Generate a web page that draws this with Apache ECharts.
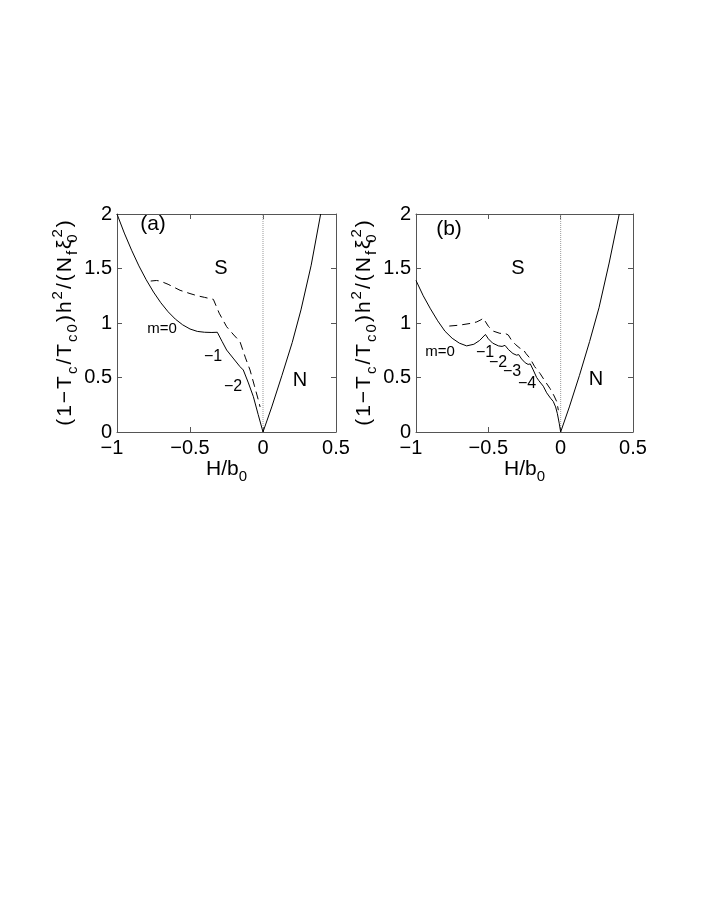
<!DOCTYPE html>
<html>
<head>
<meta charset="utf-8">
<script src="https://cdn.jsdelivr.net/npm/echarts@6/dist/echarts.min.js"></script>
<style>
  html, body { margin: 0; padding: 0; background: #fff; }
  #main { width: 708px; height: 917px; }
</style>
</head>
<body>
<div id="main"></div>
<script>
// 两个子图的数据 (a) (b)，从原图读出来的点
const boundaryA = [
  [-1, 2.0], [-0.95, 1.825], [-0.9, 1.668], [-0.85, 1.524], [-0.8, 1.397], [-0.75, 1.284],
  [-0.7, 1.186], [-0.65, 1.103], [-0.6, 1.035], [-0.55, 0.983], [-0.5, 0.945], [-0.45, 0.923],
  [-0.4, 0.915], [-0.35, 0.913], [-0.313, 0.915],
  [-0.28, 0.83], [-0.249, 0.752], [-0.2, 0.67], [-0.158, 0.6], [-0.135, 0.569],
  [-0.1, 0.45], [-0.066, 0.324], [-0.033, 0.16], [0, 0]
];
const dashedA = [
  [-0.769, 1.385], [-0.73, 1.39], [-0.705, 1.385], [-0.65, 1.355], [-0.568, 1.3],
  [-0.5, 1.27], [-0.45, 1.25], [-0.4, 1.235], [-0.34, 1.217],
  [-0.3, 1.09], [-0.249, 0.966], [-0.2, 0.89], [-0.158, 0.83],
  [-0.12, 0.68], [-0.089, 0.569], [-0.06, 0.43], [-0.032, 0.294], [-0.02, 0.23]
];
const normalA = [[0, 0], [0.06, 0.23], [0.13, 0.52], [0.2, 0.82], [0.26, 1.12], [0.33, 1.53], [0.395, 2.0]];

const boundaryB = [
  [-1, 1.39], [-0.95, 1.25], [-0.9, 1.13], [-0.85, 1.02], [-0.8, 0.925], [-0.75, 0.86],
  [-0.7, 0.815], [-0.65, 0.79], [-0.6, 0.805], [-0.56, 0.84], [-0.52, 0.895],
  [-0.5, 0.855], [-0.47, 0.815], [-0.43, 0.79], [-0.405, 0.785], [-0.385, 0.795],
  [-0.36, 0.755], [-0.33, 0.72], [-0.305, 0.705], [-0.29, 0.71],
  [-0.27, 0.67], [-0.245, 0.635], [-0.225, 0.62], [-0.21, 0.625],
  [-0.19, 0.57], [-0.166, 0.5], [-0.15, 0.47], [-0.14, 0.47], [-0.12, 0.42],
  [-0.097, 0.36], [-0.07, 0.31], [-0.051, 0.28], [-0.035, 0.23], [-0.023, 0.17],
  [-0.01, 0.08], [0, 0]
];
const dashedB = [
  [-0.77, 0.972], [-0.7, 0.98], [-0.62, 0.997], [-0.58, 1.01], [-0.55, 1.03], [-0.535, 1.045],
  [-0.5, 0.97], [-0.465, 0.925], [-0.42, 0.905], [-0.385, 0.905], [-0.362, 0.89],
  [-0.339, 0.84], [-0.31, 0.8], [-0.281, 0.768], [-0.26, 0.76], [-0.24, 0.72],
  [-0.212, 0.676], [-0.18, 0.6], [-0.143, 0.538], [-0.11, 0.47], [-0.074, 0.4],
  [-0.045, 0.33], [-0.027, 0.278], [-0.016, 0.2]
];
const normalB = [[0, 0], [0.06, 0.23], [0.13, 0.52], [0.2, 0.83], [0.265, 1.14], [0.335, 1.55], [0.405, 2.0]];

const zeroLine = [[0, 0], [0, 2]];
const xRange = [-1, 0.5];
const yRange = [0, 2];
const tickStep = 0.5;

// 轴标题: [样式, 文字]
const yNameParts = [
  ['m', '(1−T'], ['sub', 'c'], ['m', '/T'], ['sub', 'c0'], ['m', ')h'], ['sup', '2'],
  ['m', '/(N'], ['sub', 'f'], ['m', 'ξ'], ['sub0', '0'], ['sup', '2'], ['m', ')']
];
const xNameParts = [['m', 'H/b'], ['sub', '0']];

const chartDom = document.getElementById('main');
const myChart = echarts.init(chartDom);

const font = 'Liberation Sans, Arial, Helvetica, sans-serif';
const frameColor = '#555';
const rich = {
  m: { fontSize: 21, lineHeight: 30, verticalAlign: 'middle', fontFamily: font, color: '#000', padding: [0, 1, 0, 1] },
  sub: { fontSize: 15, lineHeight: 14, verticalAlign: 'bottom', fontFamily: font, color: '#000', padding: [0, 1, 0, 1] },
  sup: { fontSize: 15, lineHeight: 14, verticalAlign: 'top', fontFamily: font, color: '#000', padding: [0, 1, 0, 1] },
  sub0: { fontSize: 15, lineHeight: 14, verticalAlign: 'bottom', fontFamily: font, color: '#000', width: 0 }
};
const richX = {
  m: { fontSize: 21, lineHeight: 30, verticalAlign: 'middle', fontFamily: font, color: '#000' },
  sub: { fontSize: 15, lineHeight: 14, verticalAlign: 'bottom', fontFamily: font, color: '#000' }
};

// 每个字一个 token，这样 padding 能把字距拉开
function spaced(parts) {
  return parts.map(([s, t]) => s === 'sub0' ? '{' + s + '|' + t + '}'
    : Array.from(t).map(c => '{' + s + '|' + c + '}').join('')).join('');
}
const yName = spaced(yNameParts);
const xName = xNameParts.map(([s, t]) => '{' + s + '|' + t + '}').join('');

const minus = (v) => v === -1 ? '−1\u2002' : String(v).replace('-', '−');

function makeX(grid, pos) {
  return {
    gridIndex: grid, type: 'value', position: pos,
    min: xRange[0], max: xRange[1], interval: tickStep,
    axisLine: { show: true, onZero: false, lineStyle: { color: frameColor, width: 1 } },
    axisTick: { show: true, inside: true, length: 5, lineStyle: { color: frameColor } },
    axisLabel: pos === 'bottom'
      ? { show: true, fontSize: 20, fontFamily: font, color: '#000', margin: 6, formatter: minus }
      : { show: false },
    splitLine: { show: false },
    name: pos === 'bottom' ? xName : '',
    nameLocation: 'middle', nameGap: 11,
    nameTextStyle: { rich: richX }
  };
}
function makeY(grid, pos) {
  return {
    gridIndex: grid, type: 'value', position: pos,
    min: yRange[0], max: yRange[1], interval: tickStep,
    axisLine: { show: true, onZero: false, lineStyle: { color: frameColor, width: 1 } },
    axisTick: { show: true, inside: true, length: 5, lineStyle: { color: frameColor } },
    axisLabel: pos === 'left'
      ? { show: true, fontSize: 20, fontFamily: font, color: '#000', margin: 5 }
      : { show: false },
    splitLine: { show: false },
    name: pos === 'left' ? yName : '',
    nameLocation: 'middle', nameGap: 32, nameRotate: 90,
    nameTextStyle: { rich: rich }
  };
}

function line(data, xi, yi, type, color) {
  return {
    type: 'line', data: data, xAxisIndex: xi, yAxisIndex: yi,
    symbol: 'none', smooth: false, silent: true,
    lineStyle: { color: color || '#000', width: 1, type: type || 'solid' }
  };
}

function txt(s, x, y, size) {
  return {
    type: 'text', x: x, y: y, silent: true,
    style: { text: s, fill: '#000', fontSize: size, fontFamily: font, align: 'center', verticalAlign: 'middle' }
  };
}

const option = {
  animation: false,
  backgroundColor: '#fff',
  grid: [
    { left: 117, top: 214, width: 219, height: 218 },
    { left: 416, top: 214, width: 217, height: 218 }
  ],
  xAxis: [makeX(0, 'bottom'), makeX(0, 'top'), makeX(1, 'bottom'), makeX(1, 'top')],
  yAxis: [makeY(0, 'left'), makeY(0, 'right'), makeY(1, 'left'), makeY(1, 'right')],
  series: [
    line(zeroLine, 0, 0, 'dotted', '#999'),
    line(boundaryA, 0, 0),
    line(normalA, 0, 0),
    line(dashedA, 0, 0, [8, 5]),
    line(zeroLine, 2, 2, 'dotted', '#999'),
    line(boundaryB, 2, 2),
    line(normalB, 2, 2),
    line(dashedB, 2, 2, [8, 5])
  ],
  graphic: [
    txt('(a)', 153, 224, 21),
    txt('S', 221, 268, 20),
    txt('N', 300, 380, 20),
    txt('m=0', 162, 329, 15),
    txt('−1', 213, 357, 16),
    txt('−2', 233, 387, 16),
    txt('(b)', 449, 229, 21),
    txt('S', 518, 268, 20),
    txt('N', 596, 379, 20),
    txt('m=0', 440, 352, 15),
    txt('−1', 485, 353, 16),
    txt('−2', 498, 363, 16),
    txt('−3', 512, 372, 16),
    txt('−4', 527, 384, 16)
  ]
};

option && myChart.setOption(option);
</script>
</body>
</html>
